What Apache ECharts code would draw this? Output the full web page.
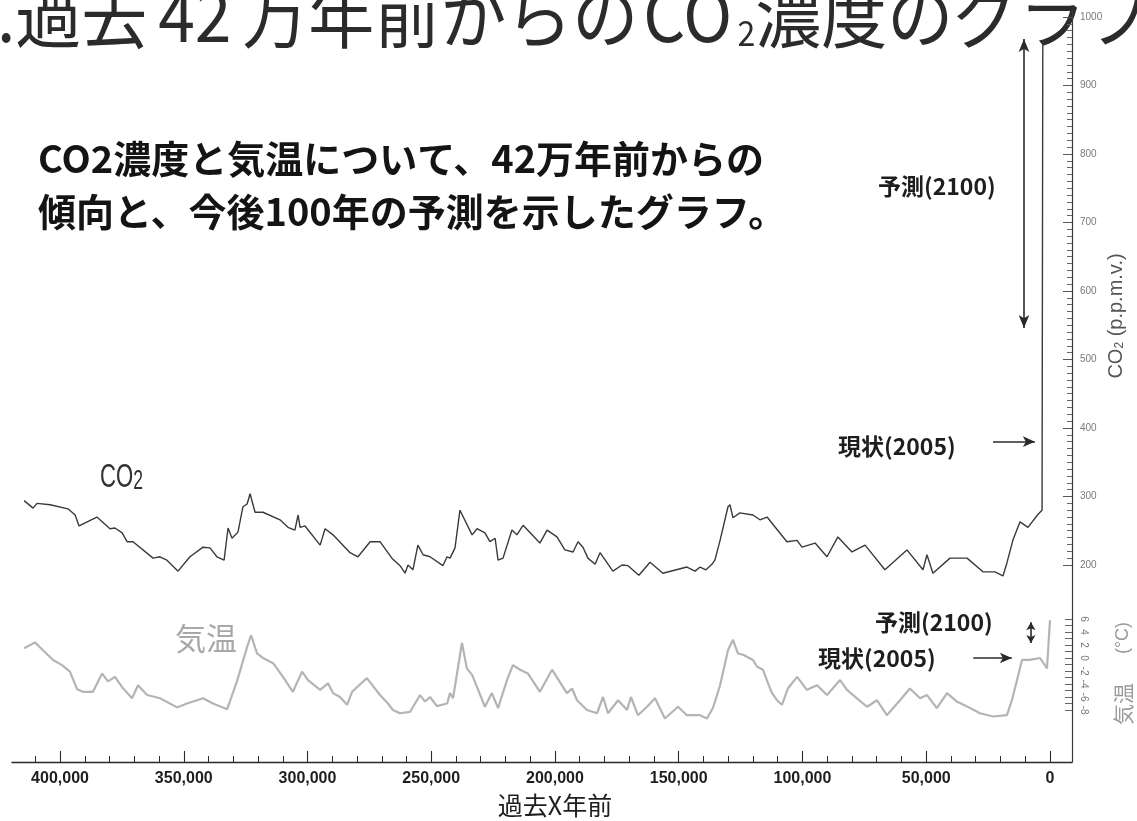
<!DOCTYPE html>
<html>
<head>
<meta charset="utf-8">
<script src="https://cdn.jsdelivr.net/npm/echarts@6/dist/echarts.min.js"></script>
<style>
  html, body { margin: 0; padding: 0; background: #ffffff; }
  #chart { width: 1137px; height: 821px; }
</style>
</head>
<body>
<div id="chart"></div>
<script>
// CO2 concentration, years before present (thousands) and ppmv
const co2Kyr = [
  414.5, 410.9, 409.3, 404.0, 396.8, 393.9, 392.3, 385.1, 379.8, 377.8,
  374.9, 372.9, 370.5, 362.4, 359.6, 356.8, 352.3, 347.5, 342.2, 339.4,
  336.6, 333.7, 332.1, 330.5, 328.1, 326.1, 324.4, 323.2, 321.2, 318.0,
  311.1, 307.9, 305.1, 303.8, 303.0, 301.0, 294.9, 292.9, 289.7, 282.8,
  279.6, 274.7, 270.7, 265.9, 262.6, 260.6, 259.4, 257.4, 255.4, 253.3,
  250.5, 245.3, 243.6, 242.4, 240.4, 238.4, 233.5, 231.5, 228.3, 226.3,
  224.2, 223.0, 221.0, 217.4, 215.4, 212.9, 206.1, 203.2, 199.2, 196.0,
  192.7, 190.7, 188.7, 186.7, 183.8, 181.8, 176.6, 172.9, 170.5, 166.1,
  161.6, 156.4, 146.7, 143.4, 141.4, 139.0, 136.6, 135.4, 133.3, 130.1,
  129.3, 128.1, 125.3, 120.0, 117.2, 114.3, 112.3, 106.3, 102.2, 100.2,
  94.9, 90.1, 85.7, 80.0, 74.7, 66.7, 57.8, 51.3, 49.7, 47.3,
  40.4, 33.5, 27.1, 22.2, 19.0, 17.4, 15.0, 12.1, 8.9, 4.8,
  3.2, 2.9
];
const co2Ppm = [
  294, 283, 290, 288, 282, 273, 257, 270, 253, 254,
  247, 234, 234, 210, 212, 207, 191, 212, 226, 225,
  212, 207, 254, 239, 248, 285, 289, 304, 277, 277,
  266, 255, 251, 273, 255, 257, 229, 253, 244, 218,
  212, 234, 234, 210, 199, 188, 200, 193, 229, 215,
  212, 199, 212, 210, 225, 280, 244, 253, 247, 234,
  239, 207, 210, 251, 244, 258, 232, 251, 241, 222,
  219, 234, 226, 210, 201, 218, 191, 200, 199, 185,
  204, 188, 197, 191, 197, 193, 201, 207, 236, 285,
  288, 269, 276, 273, 266, 270, 261, 234, 236, 226,
  232, 212, 241, 219, 229, 193, 222, 193, 215, 188,
  210, 210, 190, 190, 184, 203, 236, 263, 255, 274,
  280, 966
];

// Temperature anomaly, years before present (thousands) and degrees C
const tempKyr = [
  414.5, 410.1, 406.9, 402.8, 399.2, 396.0, 393.1, 390.7, 386.7, 383.0,
  380.6, 377.8, 374.9, 370.9, 368.5, 364.8, 359.6, 352.7, 348.7, 342.2,
  338.2, 332.5, 328.5, 324.4, 322.8, 320.4, 318.0, 313.9, 309.9, 305.9,
  302.2, 299.8, 294.9, 291.7, 289.7, 286.9, 284.0, 282.0, 276.0, 270.7,
  267.5, 265.5, 262.6, 258.6, 254.5, 252.5, 250.5, 247.7, 243.6, 242.4,
  241.2, 237.6, 235.6, 233.5, 228.3, 225.5, 223.0, 219.4, 217.0, 214.1,
  210.9, 206.1, 201.2, 195.2, 193.1, 191.1, 187.1, 183.0, 180.6, 178.6,
  174.5, 170.9, 169.3, 166.5, 162.8, 159.6, 155.6, 150.3, 146.7, 141.4,
  138.6, 136.2, 133.3, 130.1, 128.1, 126.1, 124.0, 120.0, 118.4, 116.0,
  113.9, 112.3, 110.3, 108.3, 105.9, 102.2, 98.2, 94.1, 90.1, 84.8,
  82.0, 78.0, 73.9, 69.9, 65.9, 60.6, 56.6, 52.5, 49.7, 45.7,
  41.6, 37.6, 32.3, 28.3, 23.0, 17.4, 15.4, 13.3, 11.3, 8.1,
  4.0, 1.2, 0.0
];
const tempDeg = [
  1.5, 2.4, 1.2, -0.3, -1.1, -2.1, -4.8, -5.2, -5.2, -2.4,
  -3.6, -2.9, -4.5, -6.2, -4.2, -5.7, -6.2, -7.6, -7.0, -6.2,
  -7.0, -7.9, -3.6, 1.7, 3.5, 0.7, 0.0, -0.8, -2.9, -5.2,
  -2.1, -3.4, -4.9, -3.9, -5.4, -6.0, -7.2, -5.2, -3.1, -5.7,
  -7.0, -8.0, -8.5, -8.3, -5.7, -6.7, -6.0, -7.4, -7.0, -5.4,
  -6.2, 2.3, -1.6, -2.6, -7.5, -5.4, -7.7, -3.4, -1.1, -1.8,
  -2.4, -5.2, -1.8, -5.4, -4.7, -6.5, -8.0, -8.5, -6.0, -8.5,
  -6.5, -8.0, -6.0, -8.8, -7.5, -6.2, -9.3, -7.5, -8.8, -8.8,
  -9.3, -7.7, -4.2, 1.2, 2.8, 0.7, 0.5, -0.3, -1.3, -1.8,
  -3.9, -5.4, -6.5, -7.2, -4.7, -2.9, -4.9, -4.2, -5.7, -3.4,
  -4.9, -6.2, -7.5, -6.5, -8.8, -6.5, -4.7, -6.2, -5.7, -7.7,
  -5.4, -6.7, -7.7, -8.5, -9.0, -8.8, -6.5, -3.4, -0.3, -0.3,
  0.0, -1.6, 5.8
];

// Axis ticks and labels
const xLabelYears = [0, 50000, 100000, 150000, 200000, 250000, 300000, 350000, 400000];
const co2Labels = [200, 300, 400, 500, 600, 700, 800, 900, 1000];
const tempLabels = [6, 4, 2, 0, -2, -4, -6, -8];

// Annotation values: present (2005) and projected (2100) ranges
const co2NowPpm = 380;
const co2ForecastPpm = [546, 968];
const tempNowDeg = 0;
const tempForecastDeg = [2.3, 5.5];

const xMinorYears = [];
for (let y = 10000; y <= 410000; y += 10000) {
  if (y % 50000 !== 0) xMinorYears.push(y);
}
const co2MinorTicks = [];
for (let v = 210; v < 1000; v += 10) {
  if (v % 100 !== 0) co2MinorTicks.push(v);
}
const tempTicks = [];
for (let t = -8; t <= 6; t += 1) tempTicks.push(t);

const co2Data = co2Kyr.map((k, i) => [k * 1000, co2Ppm[i]]);
const tempData = tempKyr.map((k, i) => [k * 1000, tempDeg[i]]);

const JP = '"Noto Sans CJK JP", "Noto Sans CJK SC", sans-serif';
const LAT = '"Liberation Sans", Arial, sans-serif';

const xBase = {
  type: 'value', gridIndex: 0, position: 'bottom', inverse: true,
  min: -8900, max: 419400, splitLine: { show: false }
};
const co2Base = {
  type: 'value', gridIndex: 0, position: 'right',
  min: -87.6, max: 1010.2, splitLine: { show: false }
};

const arrowLine = { color: '#2a2a2a', width: 1.6, type: 'solid' };

const option = {
  animation: false,
  backgroundColor: '#ffffff',
  grid: { left: 12, right: 65, top: 10, bottom: 59 },
  xAxis: [
    Object.assign({}, xBase, {
      axisLine: { show: true, onZero: false, lineStyle: { color: '#2a2a2a', width: 1.3 } },
      axisTick: { show: true, inside: true, length: 11, customValues: xLabelYears,
        lineStyle: { color: '#2a2a2a', width: 1.1 } },
      axisLabel: {
        show: true, customValues: xLabelYears, margin: 9,
        fontFamily: LAT, fontWeight: 'bold', fontSize: 16, color: '#1e1e1e',
        formatter: v => v.toLocaleString('en-US')
      }
    }),
    Object.assign({}, xBase, {
      axisLine: { show: false, onZero: false },
      axisTick: { show: true, inside: true, length: 6, customValues: xMinorYears,
        lineStyle: { color: '#2a2a2a', width: 1 } },
      axisLabel: { show: false }
    })
  ],
  yAxis: [
    Object.assign({}, co2Base, {
      axisLine: { show: true, onZero: false, lineStyle: { color: '#3a3a3a', width: 1.2 } },
      axisTick: { show: true, inside: true, length: 9, customValues: co2Labels,
        lineStyle: { color: '#555', width: 1 } },
      axisLabel: { show: true, customValues: co2Labels, margin: 8,
        fontFamily: LAT, fontSize: 10, color: '#7a7a7a', formatter: v => String(v) }
    }),
    Object.assign({}, co2Base, {
      axisLine: { show: false, onZero: false },
      axisTick: { show: true, inside: true, length: 5, customValues: co2MinorTicks,
        lineStyle: { color: '#666', width: 1 } },
      axisLabel: { show: false }
    }),
    {
      type: 'value', gridIndex: 0, position: 'right',
      min: -16, max: 99.69, splitLine: { show: false },
      axisLine: { show: false, onZero: false },
      axisTick: { show: true, inside: true, length: 7, customValues: tempTicks,
        lineStyle: { color: '#666', width: 1 } },
      axisLabel: { show: true, customValues: tempLabels, rotate: -90, margin: 7,
        fontFamily: LAT, fontSize: 10, color: '#7a7a7a' }
    }
  ],
  series: [
    {
      name: '気温', type: 'line', xAxisIndex: 0, yAxisIndex: 2,
      data: tempData, showSymbol: false, silent: true,
      lineStyle: { color: '#b4b4b4', width: 2.2 }, z: 2,
      markLine: {
        silent: true, symbol: ['none', 'none'], label: { show: false },
        lineStyle: arrowLine,
        data: [
          [ { coord: [31000, tempNowDeg] },
            { coord: [15400, tempNowDeg], symbol: 'arrow', symbolSize: [8, 12] } ],
          [ { coord: [7700, tempForecastDeg[0]], symbol: 'arrow', symbolSize: [7, 8] },
            { coord: [7700, tempForecastDeg[1]], symbol: 'arrow', symbolSize: [7, 8] } ]
        ]
      }
    },
    {
      name: 'CO2', type: 'line', xAxisIndex: 0, yAxisIndex: 0,
      data: co2Data, showSymbol: false, silent: true,
      lineStyle: { color: '#3a3a3a', width: 1.4 }, z: 3,
      markLine: {
        silent: true, symbol: ['none', 'none'], label: { show: false },
        lineStyle: arrowLine,
        data: [
          [ { coord: [23000, co2NowPpm] },
            { coord: [6100, co2NowPpm], symbol: 'arrow', symbolSize: [8, 12] } ],
          [ { coord: [10500, co2ForecastPpm[0]], symbol: 'arrow', symbolSize: [8, 13] },
            { coord: [10500, co2ForecastPpm[1]], symbol: 'arrow', symbolSize: [8, 13] } ]
        ]
      }
    }
  ],
  graphic: [
    {
      type: 'text', x: -3, y: 15, scaleY: 1.08, silent: true,
      style: {
        text: '.過去{d|42}万年前からの{co|CO}{sub|2}濃度のグラフ',
        fontFamily: JP, fontSize: 66, fill: '#2b2b2b',
        align: 'left', verticalAlign: 'middle', lineHeight: 66,
        rich: {
          d: { fontFamily: JP, fontSize: 66, fill: '#2b2b2b', width: 95, align: 'center' },
          co: { fontFamily: JP, fontSize: 66, fill: '#2b2b2b', width: 99, align: 'center' },
          sub: { fontFamily: JP, fontSize: 32, fill: '#2b2b2b', width: 18,
            verticalAlign: 'bottom', lineHeight: 20 }
        }
      }
    },
    {
      type: 'text', x: 38, y: 159, silent: true,
      style: { text: 'CO2濃度と気温について、42万年前からの', fontFamily: JP, fontWeight: 'bold',
        fontSize: 38, fill: '#141414', align: 'left', verticalAlign: 'middle' }
    },
    {
      type: 'text', x: 38, y: 212, silent: true,
      style: { text: '傾向と、今後100年の予測を示したグラフ。', fontFamily: JP, fontWeight: 'bold',
        fontSize: 38, fill: '#141414', align: 'left', verticalAlign: 'middle' }
    },
    {
      type: 'text', x: 100, y: 478, scaleX: 0.65, silent: true,
      style: {
        text: 'CO{sub|2}', fontFamily: LAT, fontSize: 34, fill: '#333333',
        align: 'left', verticalAlign: 'middle', lineHeight: 34,
        rich: { sub: { fontFamily: LAT, fontSize: 27, fill: '#333333', verticalAlign: 'bottom', lineHeight: 8 } }
      }
    },
    {
      type: 'text', x: 175, y: 638, silent: true,
      style: { text: '気温', fontFamily: JP, fontSize: 31, fill: '#a8a8a8',
        align: 'left', verticalAlign: 'middle' }
    },
    {
      type: 'text', x: 878, y: 186, silent: true,
      style: { text: '予測(2100)', fontFamily: JP, fontWeight: 'bold', fontSize: 23,
        fill: '#1e1e1e', align: 'left', verticalAlign: 'middle' }
    },
    {
      type: 'text', x: 838, y: 446, silent: true,
      style: { text: '現状(2005)', fontFamily: JP, fontWeight: 'bold', fontSize: 23,
        fill: '#1e1e1e', align: 'left', verticalAlign: 'middle' }
    },
    {
      type: 'text', x: 875, y: 622, silent: true,
      style: { text: '予測(2100)', fontFamily: JP, fontWeight: 'bold', fontSize: 23,
        fill: '#1e1e1e', align: 'left', verticalAlign: 'middle' }
    },
    {
      type: 'text', x: 818, y: 658, silent: true,
      style: { text: '現状(2005)', fontFamily: JP, fontWeight: 'bold', fontSize: 23,
        fill: '#1e1e1e', align: 'left', verticalAlign: 'middle' }
    },
    {
      type: 'text', x: 1116, y: 316, rotation: Math.PI / 2, silent: true,
      style: {
        text: 'CO{sub|2} (p.p.m.v.)', fontFamily: LAT, fontSize: 20, fill: '#555555',
        align: 'center', verticalAlign: 'middle', lineHeight: 20,
        rich: { sub: { fontFamily: LAT, fontSize: 12, fill: '#555555', verticalAlign: 'bottom', lineHeight: 10 } }
      }
    },
    {
      type: 'text', x: 1123, y: 638, rotation: Math.PI / 2, silent: true,
      style: { text: '(°C)', fontFamily: LAT, fontSize: 18, fill: '#9a9a9a',
        align: 'center', verticalAlign: 'middle' }
    },
    {
      type: 'text', x: 1123, y: 704, rotation: Math.PI / 2, silent: true,
      style: { text: '気温', fontFamily: JP, fontSize: 21, fill: '#9a9a9a',
        align: 'center', verticalAlign: 'middle' }
    },
    {
      type: 'text', x: 555, y: 805, silent: true,
      style: { text: '過去X年前', fontFamily: JP, fontSize: 25, fill: '#1e1e1e',
        align: 'center', verticalAlign: 'middle' }
    }
  ]
};

const chart = echarts.init(document.getElementById('chart'), null, { renderer: 'canvas' });
chart.setOption(option);
</script>
</body>
</html>
